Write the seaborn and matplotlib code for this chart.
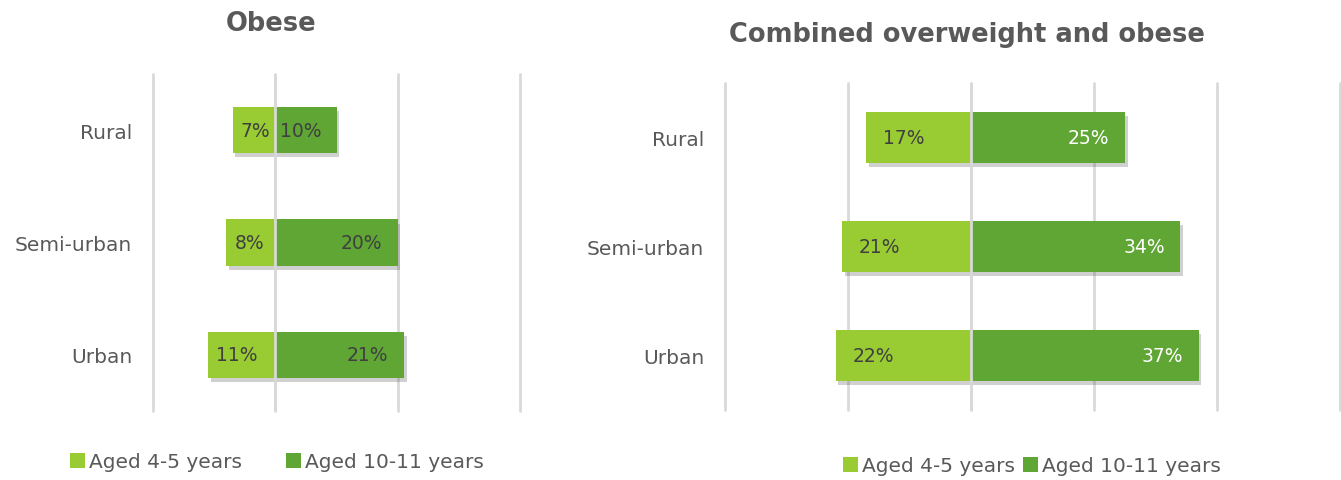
import matplotlib
matplotlib.use("Agg")
import matplotlib.pyplot as plt
import matplotlib.patheffects as pe
from matplotlib.patches import Patch
import seaborn as sns
import pandas as pd

areas = ["Rural", "Semi-urban", "Urban"]
obese_4_5 = [7, 8, 11]
obese_10_11 = [10, 20, 21]
comb_4_5 = [17, 21, 22]
comb_10_11 = [25, 34, 37]
series = ["Aged 4-5 years", "Aged 10-11 years"]
titles = ["Obese", "Combined overweight and obese"]

LIGHT = "#99CC33"
DARK = "#5FA634"
GRID = "#D9D9D9"
TXT = "#595959"

sns.set_theme(style="white")
plt.rcParams["font.family"] = ["DejaVu Sans"]

fig = plt.figure(figsize=(13.41, 4.81), dpi=100)
W, H = 1341, 481


def make_ax(x0, x1, ytop, ybot):
    return fig.add_axes([x0 / W, 1 - ybot / H, (x1 - x0) / W, (ybot - ytop) / H])


def panel(ax, young, old, xlim, ticks, width, white_old, lpad):
    df = pd.DataFrame({
        "area": areas * 2,
        "value": [-v for v in young] + list(old),
        "age": [series[0]] * 3 + [series[1]] * 3,
    })
    sns.barplot(data=df, y="area", x="value", hue="age", orient="h",
                dodge=False, width=width, palette=[LIGHT, DARK], saturation=1,
                order=areas, hue_order=series, ax=ax, legend=False,
                edgecolor="none", linewidth=0, zorder=2)
    for p in ax.patches:
        p.set_path_effects([pe.SimplePatchShadow(offset=(2, -3), alpha=0.25,
                                                 shadow_rgbFace="#444444"),
                            pe.Normal()])
    ax.set_xlim(*xlim)
    ax.set_ylim(2.5, -0.5)
    ax.set_xticks(ticks)
    ax.set_xticklabels([])
    ax.tick_params(axis="x", length=0)
    ax.tick_params(axis="y", length=0, pad=15, labelsize=14.5, labelcolor=TXT)
    ax.set_xlabel("")
    ax.set_ylabel("")
    for s in ax.spines.values():
        s.set_visible(False)
    ax.grid(False)
    for t in ticks:
        ax.axvline(t, color=GRID, lw=2, zorder=1, clip_on=False)
    ax.axvline(0, color=GRID, lw=2, zorder=3)
    for i, (a, b) in enumerate(zip(young, old)):
        ax.annotate(f"{a}%", xy=(-a, i), xytext=(lpad, 0), textcoords="offset points",
                    ha="left", va="center", fontsize=13.5, color="#404040", zorder=4)
        ax.annotate(f"{b}%", xy=(b, i), xytext=(-11, 0), textcoords="offset points",
                    ha="right", va="center", fontsize=13.5,
                    color="white" if white_old else "#404040", zorder=4)


ax1 = make_ax(153, 520, 75, 412)
panel(ax1, obese_4_5, obese_10_11, (-20, 40), [-20, 0, 20, 40], 0.41, False, 6)
ax2 = make_ax(725, 1340, 84, 411)
panel(ax2, comb_4_5, comb_10_11, (-40, 60), [-40, -20, 0, 20, 40, 60], 0.47, True, 12)

fig.text(271 / W, 1 - 24 / H, titles[0], ha="center", va="center",
         fontsize=18.5, fontweight="bold", color=TXT)
fig.text(967 / W, 1 - 35 / H, titles[1], ha="center", va="center",
         fontsize=18.5, fontweight="bold", color=TXT)

handles = [Patch(facecolor=LIGHT, edgecolor="none"), Patch(facecolor=DARK, edgecolor="none")]
fig.legend(handles, series, loc="center", bbox_to_anchor=(277 / W, 1 - 463 / H),
           ncol=2, frameon=False, fontsize=14.5, labelcolor=TXT,
           handlelength=0.75, handleheight=0.75, handletextpad=0.2, columnspacing=2.2)
fig.legend(handles, series, loc="center", bbox_to_anchor=(1032 / W, 1 - 467 / H),
           ncol=2, frameon=False, fontsize=14.5, labelcolor=TXT,
           handlelength=0.75, handleheight=0.75, handletextpad=0.2, columnspacing=0.4)

fig.savefig("out.png", dpi=100, facecolor="white")
